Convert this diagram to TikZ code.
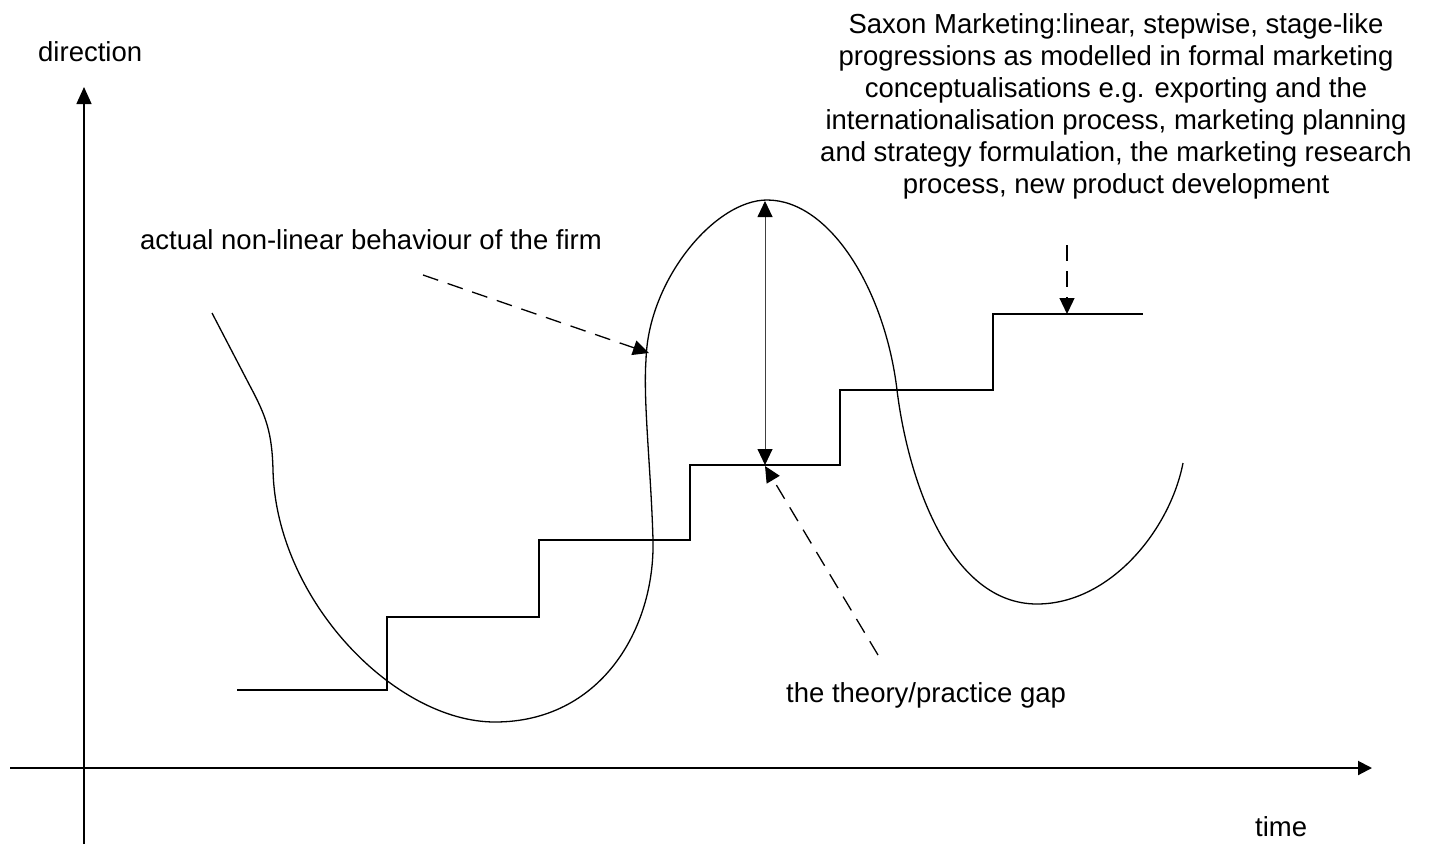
\documentclass[tikz,border=0pt]{standalone}
\usepackage{fontspec}
\setmainfont{Liberation Sans}
\usetikzlibrary{arrows.meta}
\begin{document}
\begin{tikzpicture}[x=1pt,y=-1pt,
  lbl/.style={inner sep=0pt,font=\fontsize{27.5}{32}\selectfont},
  axis/.style={line width=1.6pt,-{Triangle[length=17pt,width=15pt]}},
  curve/.style={line width=1.3pt},
  stair/.style={line width=1.3pt},
  pointer/.style={line width=1.3pt,dash pattern=on 16pt off 10pt,-{Triangle[length=16pt,width=15pt]}},
  gap/.style={line width=0.9pt,draw=black!75,{Triangle[length=16pt,width=15pt,black]}-{Triangle[length=16pt,width=15pt,black]}}]
\useasboundingbox (0,0) rectangle (1429,844);
% axes
\coordinate (yb) at (84,844);
\coordinate (yt) at (84,87);
\coordinate (xl) at (10,768);
\coordinate (xr) at (1372,768);
\draw[axis,line width=1.4pt] (yb) -- (yt);
\draw[axis,line width=2pt,-{Triangle[length=14pt,width=14pt]}] (xl) -- (xr);
% labels
\node[lbl,anchor=base west] (dir) at (38,61) {direction};
\node[lbl,anchor=base west] (tm) at (1255,836) {time};
\node[lbl,anchor=base west] (act) at (140,249) {actual non-linear behaviour of the firm};
\node[lbl,anchor=base west] (gapl) at (786,702) {the theory/practice gap};
\node[lbl,anchor=north,align=center] (sax) at (1116,13) {Saxon Marketing:linear, stepwise, stage-like\\progressions as modelled in formal marketing\\conceptualisations e.g. exporting and the\\internationalisation process, marketing planning\\and strategy formulation, the marketing research\\process, new product development};
% staircase
\draw[stair] (237,690) -- (387,690) -- (387,617) -- (539,617) -- (539,540) -- (690,540) -- (690,465) -- (840,465) -- (840,390) -- (993,390) -- (993,314) -- (1143,314);
% curve
\draw[curve] (212,313) -- (250,386)
  .. controls (266,416) and (272,432) .. (273,470)
  .. controls (276,600) and (395,722) .. (495,722)
  .. controls (600,722) and (655,630) .. (653,540)
  .. controls (651,470) and (643,400) .. (646,360)
  .. controls (648,280) and (715,200) .. (767,200)
  .. controls (830,200) and (885,290) .. (897,390)
  .. controls (908,480) and (950,604) .. (1037,604)
  .. controls (1110,604) and (1170,530) .. (1183,463);
% pointers
\coordinate (p1s) at (423,275);
\coordinate (p1e) at (649,353);
\draw[pointer] (p1s) -- (p1e);
\coordinate (p2s) at (878,655);
\coordinate (p2e) at (765,466);
\draw[pointer] (p2s) -- (p2e);
\coordinate (p3s) at (1067,245);
\coordinate (p3e) at (1067,314);
\draw[pointer] (p3s) -- (p3e);
% gap
\coordinate (gt) at (765,201);
\coordinate (gb) at (765,465);
\draw[gap] (gt) -- (gb);
\end{tikzpicture}
\end{document}
